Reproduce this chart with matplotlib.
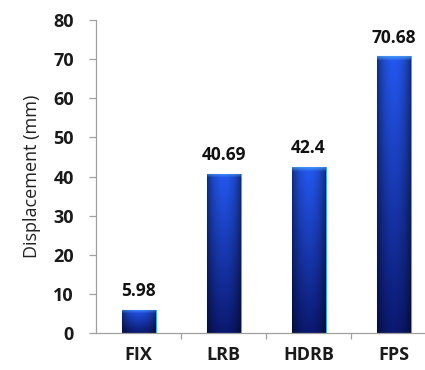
import numpy as np
import matplotlib.pyplot as plt
from matplotlib.colors import to_rgb

systems = ['FIX', 'LRB', 'HDRB', 'FPS']
displacement = [5.98, 40.69, 42.4, 70.68]
y_ticks = [0, 10, 20, 30, 40, 50, 60, 70, 80]

plt.rcParams['font.family'] = ['Open Sans', 'DejaVu Sans']

fig = plt.figure(figsize=(4.25, 3.7), dpi=100)
ax = fig.add_axes([96 / 425, 37 / 370, 340 / 425, 313 / 370])

x = np.arange(len(systems))
bars = ax.bar(x, displacement, width=0.4, color='#1535b0',
              edgecolor='#38a8f0', linewidth=0.8, zorder=2)

# shaded fill for each bar: brighter in the middle and near the top
top_c = np.array(to_rgb('#2458f0'))
bot_c = np.array(to_rgb('#0b1870'))
nx, ny = 40, 200
u = np.linspace(0, 1, nx)
v = np.linspace(0, 1, ny)[:, None]
side = 0.5 + 0.5 * np.sin(np.pi * u) ** 0.7
for b in bars:
    base = top_c * (1 - v[..., None]) + bot_c * v[..., None]
    img = base * side[None, :, None]
    # light cap along the top edge
    h_px = b.get_height() * 313 / 80
    cap = np.clip(1 - v / (4 / max(h_px, 4)), 0, 1)[..., None]
    img = img * (1 - 0.6 * cap) + np.array(to_rgb('#5ab8ff')) * 0.6 * cap
    img = np.clip(img, 0, 1)
    x0, w, h = b.get_x(), b.get_width(), b.get_height()
    im = ax.imshow(img, extent=[x0, x0 + w, 0, h], aspect='auto',
                   origin='upper', zorder=2.5, interpolation='bilinear')
    im.set_clip_path(b)

for xi, val in zip(x, displacement):
    ax.annotate(f'{val:g}', (xi, val), xytext=(0, 7), textcoords='offset points',
                ha='center', va='bottom', fontsize=12.5, fontweight='bold',
                color='#111111')

ax.set_xlim(-0.5, 3.5)
ax.set_ylim(0, 80)
ax.set_yticks(y_ticks)
ax.set_xticks(x)
ax.set_xticklabels(systems)
ax.set_xticks([0.5, 1.5, 2.5], minor=True)

for s in ['top', 'right']:
    ax.spines[s].set_visible(False)
for s in ['left', 'bottom']:
    ax.spines[s].set_color('#a0a0a0')
    ax.spines[s].set_linewidth(0.9)

ax.tick_params(axis='y', length=5, width=0.9, color='#a0a0a0', pad=11,
               labelsize=13, labelcolor='#1a1a1a')
ax.tick_params(axis='x', which='major', length=0, pad=9,
               labelsize=13, labelcolor='#1a1a1a')
ax.tick_params(axis='x', which='minor', length=4, width=0.9, color='#a0a0a0')
for lbl in ax.get_xticklabels() + ax.get_yticklabels():
    lbl.set_fontweight('bold')

ax.set_ylabel('Displacement (mm)', fontsize=13, color='#222222', labelpad=9)

fig.savefig('out.png', dpi=100)
